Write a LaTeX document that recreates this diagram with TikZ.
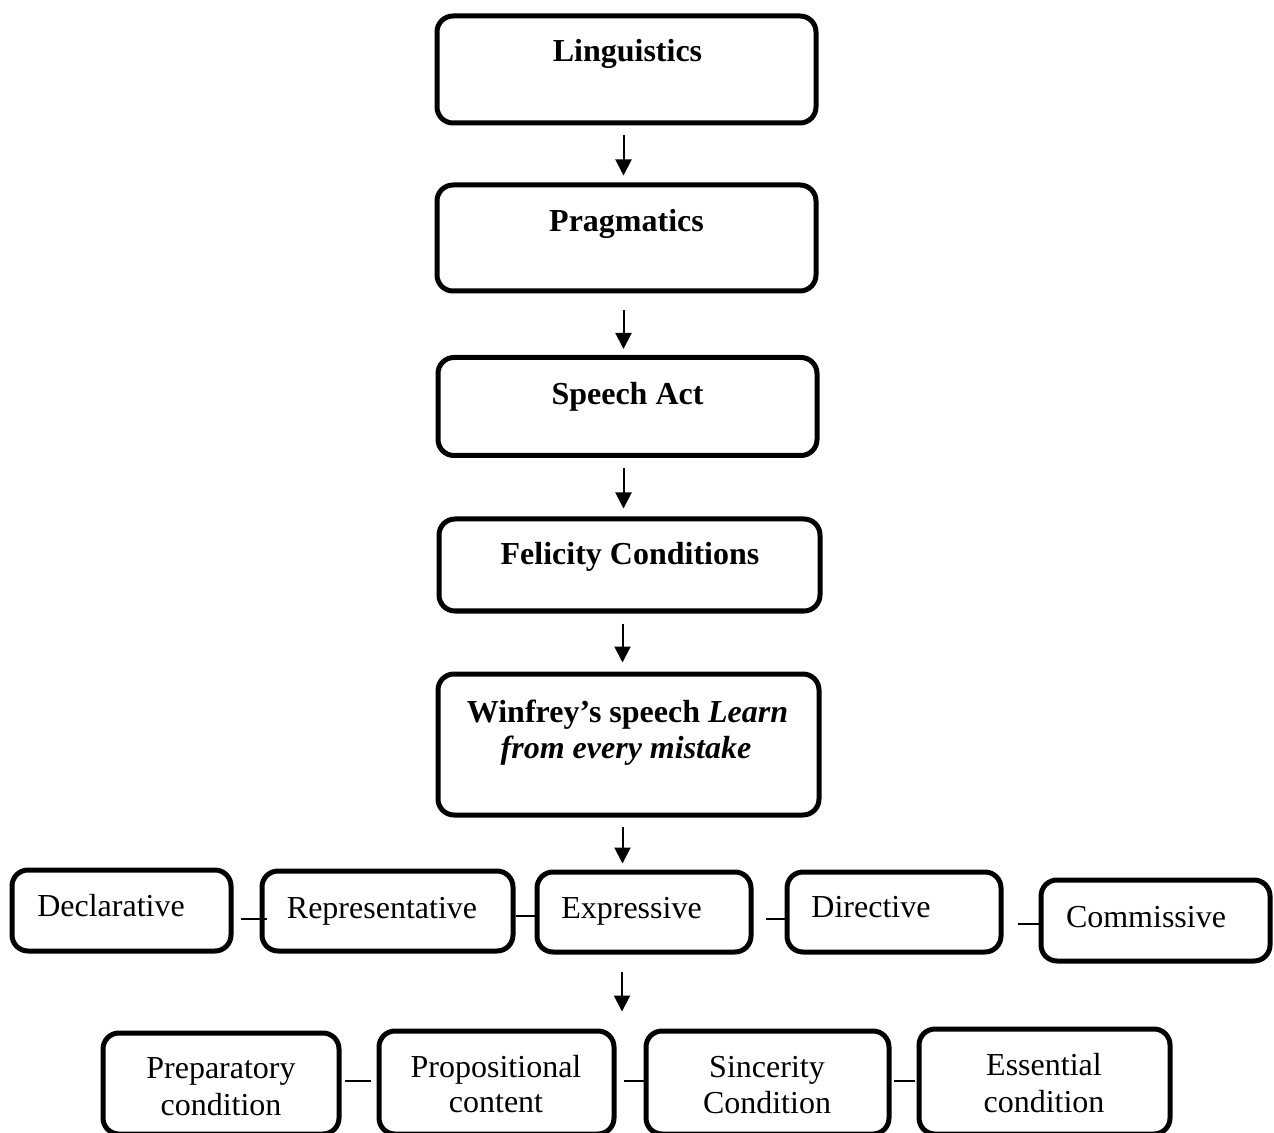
\documentclass[tikz,border=0pt]{standalone}
\usepackage{fontspec}
\setmainfont{Liberation Serif}
\usetikzlibrary{arrows.meta}
\begin{document}
\begin{tikzpicture}[x=0.5pt,y=-0.5pt,
  box/.style={draw=black,line width=2.5pt,rounded corners=8pt,inner sep=0pt},
  txt/.style={inner sep=0pt,anchor=base,align=center,font=\fontsize{16}{18}\selectfont},
  btxt/.style={txt,font=\fontsize{16}{18}\selectfont\bfseries},
  arr/.style={line width=1pt,-{Triangle[length=8pt,width=8pt]}},
  link/.style={line width=1.2pt}]
\useasboundingbox (0,0) rectangle (1274,1133);
% main column
\node[box,minimum width=189.5pt,minimum height=53.5pt] (ling) at (626.5,69.5) {};
\node[box,minimum width=189.5pt,minimum height=53pt] (prag) at (626.5,238) {};
\node[box,minimum width=189.5pt,minimum height=49pt] (speech) at (627.5,406.5) {};
\node[box,minimum width=190.5pt,minimum height=46pt] (felic) at (629.5,565) {};
\node[box,minimum width=190.5pt,minimum height=70.5pt] (winf) at (628.5,744.5) {};
\node[btxt] (ling-t) at (627.5,62) {Linguistics};
\node[btxt] (prag-t) at (626.5,232) {Pragmatics};
\node[btxt] (speech-t) at (627.5,405) {Speech Act};
\node[btxt] (felic-t) at (630,565) {Felicity Conditions};
\node[btxt] (winf-t1) at (627.5,722) {Winfrey’s speech \textit{Learn}};
\node[btxt] (winf-t2) at (626,758) {\textit{from every mistake}};
% row 1
\node[box,minimum width=109.5pt,minimum height=40.5pt] (decl) at (121.5,910.5) {};
\node[box,minimum width=125.5pt,minimum height=40pt] (repr) at (387.5,911) {};
\node[box,minimum width=107pt,minimum height=40pt] (expr) at (644,912) {};
\node[box,minimum width=107pt,minimum height=40pt] (dir) at (894,912) {};
\node[box,minimum width=114.5pt,minimum height=40.5pt] (comm) at (1155.5,920.5) {};
\node[txt] (decl-t) at (111,916) {Declarative};
\node[txt] (repr-t) at (382,918) {Representative};
\node[txt] (expr-t) at (631.5,918) {Expressive};
\node[txt] (dir-t) at (871,917) {Directive};
\node[txt] (comm-t) at (1146,927) {Commissive};
% row 2 (cut by the lower edge)
\node[box,minimum width=118pt,minimum height=50.5pt] (prep) at (221,1083.5) {};
\node[box,minimum width=117.5pt,minimum height=51.5pt] (prop) at (496.5,1082.5) {};
\node[box,minimum width=121.5pt,minimum height=51.5pt] (sinc) at (767.5,1082.5) {};
\node[box,minimum width=125.5pt,minimum height=52.5pt] (ess) at (1044.5,1081.5) {};
\node[txt] (prep-t1) at (221,1078) {Preparatory};
\node[txt] (prep-t2) at (221,1115) {condition};
\node[txt] (prop-t1) at (496,1077) {Propositional};
\node[txt] (prop-t2) at (496,1112) {content};
\node[txt] (sinc-t1) at (767,1077) {Sincerity};
\node[txt] (sinc-t2) at (767,1113) {Condition};
\node[txt] (ess-t1) at (1044,1075) {Essential};
\node[txt] (ess-t2) at (1044,1112) {condition};
% arrows
\draw[arr,shorten <=5pt,shorten >=3.5pt] ([xshift=-1.5pt]ling.south) -- ([xshift=-1.5pt]prag.north);
\draw[arr,shorten <=8.5pt,shorten >=3pt] ([xshift=-1.5pt]prag.south) -- ([xshift=-1.5pt]prag.south |- speech.north);
\draw[arr,shorten <=5pt,shorten >=4pt] ([xshift=-2pt]speech.south) -- ([xshift=-2pt]speech.south |- felic.north);
\draw[arr,shorten <=5pt,shorten >=4.5pt] ([xshift=-3.5pt]felic.south) -- ([xshift=-3.5pt]felic.south |- winf.north);
\draw[arr,shorten <=4.5pt,shorten >=3pt] ([xshift=-3pt]winf.south) -- ([xshift=-3pt]winf.south |- expr.north);
\draw[arr,shorten <=8.5pt,shorten >=8.5pt] ([xshift=-11pt]expr.south) -- ([xshift=-11pt]expr.south |- sinc.north);
% links row 1
\draw[link,shorten <=3.5pt,shorten >=-3.5pt] ([yshift=-4.25pt]decl.east) -- ([yshift=-4pt]repr.west);
\draw[link,shorten >=-1pt] ([yshift=-2.5pt]repr.east) -- ([yshift=-2pt]expr.west);
\draw[link,shorten <=6pt] ([yshift=-3.5pt]expr.east) -- ([yshift=-3.5pt]dir.west);
\draw[link,shorten <=7pt] ([yshift=-6pt]dir.east) -- ([yshift=-1.75pt]comm.west);
% links row 2
\draw[link,shorten <=1.5pt,shorten >=3pt] ([yshift=1.25pt]prep.east) -- ([yshift=0.75pt]prop.west);
\draw[link,shorten <=3.5pt] ([yshift=0.75pt]prop.east) -- ([yshift=0.75pt]sinc.west);
\draw[link,shorten <=1pt,shorten >=1pt] ([yshift=0.75pt]sinc.east) -- ([yshift=0.25pt]ess.west);
\end{tikzpicture}
\end{document}
